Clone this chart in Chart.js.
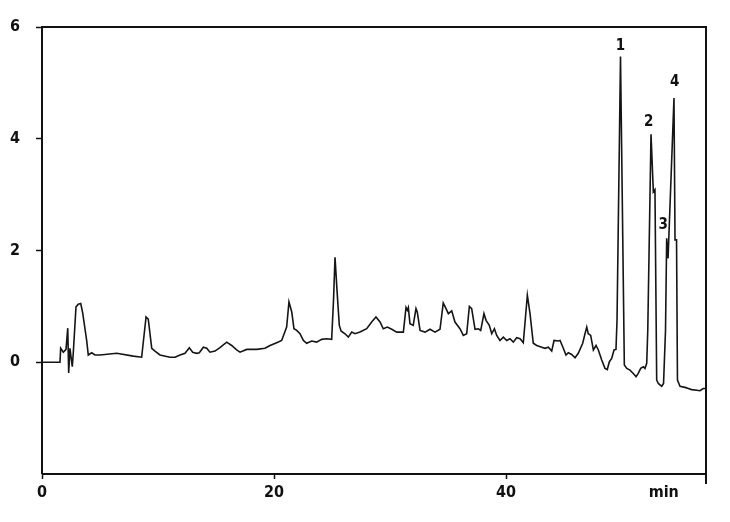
<!DOCTYPE html>
<html>
<head>
<meta charset="utf-8">
<script src="https://cdn.jsdelivr.net/npm/chart.js@4.4.0/dist/chart.umd.min.js"></script>
<style>
  html, body { margin: 0; padding: 0; background: #fff; }
  #wrap { width: 730px; height: 522px; position: relative; }
</style>
</head>
<body>
<div id="wrap"><canvas id="chromChart"></canvas></div>
<script>
// Retention time (min) and detector signal
const times = [
  0, 1.55, 1.61, 1.84, 2.07, 2.22, 2.30, 2.41, 2.61, 2.70, 2.93, 3.13, 3.34, 3.51, 3.85, 3.99,
  4.28, 4.57, 5.0, 6.44, 7.87, 8.59, 8.97, 9.16, 9.46, 9.74, 10.17, 11.03, 11.47, 11.9, 12.33,
  12.7, 12.99, 13.34, 13.56, 13.91, 14.2, 14.48, 14.91, 15.34, 15.92, 16.35, 16.78, 17.07, 17.65,
  18.5, 19.22, 19.66, 20.23, 20.66, 21.09, 21.29, 21.53, 21.72, 21.96, 22.24, 22.53, 22.82, 23.25,
  23.68, 24.11, 24.54, 24.97, 25.13, 25.26, 25.43, 25.63, 25.78, 26.12, 26.41, 26.7, 26.98, 27.41,
  27.99, 28.42, 28.79, 29.14, 29.42, 29.77, 30.15, 30.58, 31.15, 31.38, 31.49, 31.58, 31.72, 32.0,
  32.24, 32.35, 32.59, 33.02, 33.45, 33.88, 34.31, 34.59, 34.83, 35.03, 35.32, 35.6, 36.03, 36.32,
  36.61, 36.84, 37.04, 37.33, 37.61, 37.82, 38.1, 38.28, 38.56, 38.77, 39.0, 39.2, 39.48, 39.77,
  40.06, 40.34, 40.63, 40.92, 41.21, 41.49, 41.84, 42.07, 42.35, 42.65, 43.08, 43.36, 43.65, 43.94,
  44.14, 44.51, 44.66, 44.94, 45.17, 45.37, 45.66, 45.95, 46.23, 46.61, 46.81, 46.96, 47.09, 47.3,
  47.53, 47.76, 47.96, 48.25, 48.53, 48.73, 48.91, 49.11, 49.31, 49.48, 49.57, 49.87, 50.2, 50.41,
  50.69, 50.97, 51.21, 51.4, 51.61, 51.84, 51.98, 52.13, 52.22, 52.5, 52.7, 52.84, 52.99, 53.13,
  53.42, 53.58, 53.75, 53.85, 53.97, 54.48, 54.57, 54.7, 54.78, 55.0, 55.43, 55.72, 56.0, 56.44,
  56.72, 57.0, 57.24
];
const signal = [
  0, 0, 0.25, 0.18, 0.23, 0.61, -0.19, 0.25, -0.08, 0.18, 0.99, 1.04, 1.05, 0.88, 0.39, 0.13,
  0.17, 0.13, 0.13, 0.16, 0.11, 0.09, 0.81, 0.77, 0.25, 0.20, 0.13, 0.09, 0.09, 0.13, 0.16,
  0.26, 0.18, 0.16, 0.17, 0.27, 0.25, 0.18, 0.2, 0.26, 0.36, 0.3, 0.22, 0.18, 0.23,
  0.23, 0.25, 0.3, 0.35, 0.39, 0.63, 1.08, 0.9, 0.6, 0.57, 0.51, 0.39, 0.34, 0.38,
  0.36, 0.41, 0.42, 0.41, 1.11, 1.88, 1.29, 0.66, 0.56, 0.51, 0.45, 0.54, 0.51, 0.54,
  0.6, 0.72, 0.81, 0.72, 0.6, 0.63, 0.59, 0.54, 0.54, 0.98, 0.93, 0.98, 0.69, 0.66,
  0.96, 0.9, 0.57, 0.54, 0.59, 0.54, 0.59, 1.06, 0.96, 0.87, 0.92, 0.72, 0.6, 0.48,
  0.51, 1.0, 0.96, 0.59, 0.6, 0.57, 0.87, 0.75, 0.66, 0.51, 0.6, 0.48, 0.39, 0.45,
  0.39, 0.42, 0.36, 0.44, 0.42, 0.35, 1.2, 0.87, 0.34, 0.3, 0.27, 0.25, 0.27, 0.2,
  0.39, 0.38, 0.39, 0.25, 0.13, 0.17, 0.14, 0.08, 0.16, 0.34, 0.51, 0.63, 0.51, 0.48,
  0.22, 0.3, 0.22, 0.04, -0.11, -0.13, 0.01, 0.07, 0.22, 0.23, 0.75, 5.47, -0.05, -0.11,
  -0.14, -0.2, -0.26, -0.2, -0.11, -0.08, -0.11, -0.02, 0.57, 4.08, 3.05, 3.09, -0.32, -0.38,
  -0.43, -0.38, 0.57, 2.22, 1.86, 4.73, 2.19, 2.19, -0.32, -0.43, -0.45, -0.47, -0.49, -0.5,
  -0.51, -0.47, -0.47
];
const yTicks = [6, 4, 2, 0];
const xTicks = [0, 20, 40];
const unitLabel = "min";
const unitAt = 53.6;
const peakNames = ["1", "2", "3", "4"];
const peakTimes = [49.87, 52.3, 53.55, 54.55];
const peakLabelY = [5.66, 4.3, 2.46, 5.02];

const points = times.map((t, i) => ({ x: t, y: signal[i] }));

const labelFont = "'DejaVu Sans Condensed', 'DejaVu Sans', sans-serif";

// frame round the plot + peak numbers
const framePlugin = {
  id: "frame",
  afterDraw(chart) {
    const { ctx, chartArea: a, scales } = chart;
    ctx.save();
    ctx.strokeStyle = "#111";
    ctx.lineWidth = 2;
    ctx.beginPath();
    ctx.moveTo(a.left, a.bottom);
    ctx.lineTo(a.left, a.top);
    ctx.lineTo(a.right, a.top);
    ctx.lineTo(a.right, a.bottom + 10);
    ctx.moveTo(a.left, a.bottom);
    ctx.lineTo(a.right, a.bottom);
    ctx.stroke();

    ctx.fillStyle = "#111";
    ctx.font = "bold 15px " + labelFont;
    ctx.textAlign = "center";
    ctx.textBaseline = "middle";
    peakNames.forEach((n, i) => {
      ctx.fillText(n, scales.x.getPixelForValue(peakTimes[i]), scales.y.getPixelForValue(peakLabelY[i]));
    });
    ctx.restore();
  },
};

const config = {
  type: "line",
  data: {
    datasets: [
      {
        data: points,
        borderColor: "#151515",
        borderWidth: 1.6,
        pointRadius: 0,
        tension: 0,
        fill: false,
      },
    ],
  },
  options: {
    responsive: true,
    maintainAspectRatio: false,
    animation: false,
    layout: { padding: { top: 27, right: 24, left: 0, bottom: 0 } },
    plugins: {
      legend: { display: false },
      tooltip: { enabled: false },
    },
    scales: {
      x: {
        type: "linear",
        min: 0,
        max: 57.24,
        afterBuildTicks: (axis) => {
          axis.ticks = xTicks.map((v) => ({ value: v })).concat([{ value: unitAt }]);
        },
        afterFit: (axis) => { axis.height = 48; },
        border: { display: false },
        grid: {
          drawOnChartArea: false,
          tickLength: 5,
          tickWidth: 1.5,
          tickColor: (c) => (c.tick && c.tick.value === unitAt ? "rgba(0,0,0,0)" : "#111"),
        },
        ticks: {
          color: "#111",
          padding: 4,
          maxRotation: 0,
          autoSkip: false,
          font: { family: labelFont, size: 16, weight: "bold" },
          callback: (v) => (v === unitAt ? unitLabel : String(v)),
        },
      },
      y: {
        min: -2,
        max: 6,
        afterBuildTicks: (axis) => {
          axis.ticks = yTicks.map((v) => ({ value: v }));
        },
        afterFit: (axis) => { axis.width = 42; },
        border: { display: false },
        grid: {
          drawOnChartArea: false,
          tickLength: 6,
          tickWidth: 1.5,
          tickColor: "#111",
        },
        ticks: {
          color: "#111",
          padding: 16,
          font: { family: labelFont, size: 16, weight: "bold" },
        },
      },
    },
  },
  plugins: [framePlugin],
};

const chartContext = document.getElementById("chromChart");
const chromChart = new Chart(chartContext, config);
</script>
</body>
</html>
